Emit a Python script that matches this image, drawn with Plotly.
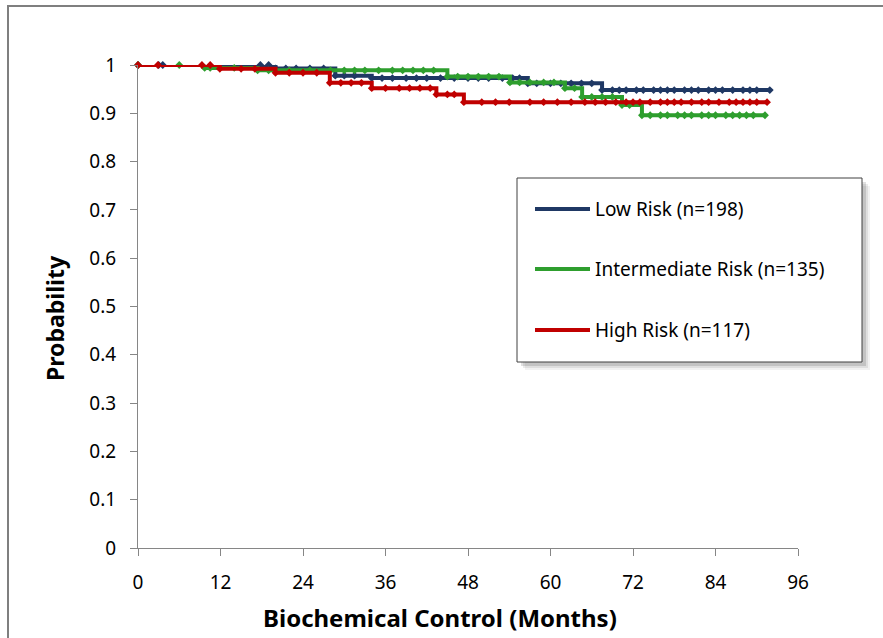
import plotly.graph_objects as go

# ---------------- data ----------------
series_names = ["Low Risk (n=198)", "Intermediate Risk (n=135)", "High Risk (n=117)"]
x_title = "Biochemical Control (Months)"
y_title = "Probability"

low_t = [0, 3, 3.6, 17.8, 19, 20, 21.5, 23, 25, 27, 28.7, 30, 31.5, 34, 35.5, 37, 39, 40.5, 42, 44, 46, 48,
         49.5, 51, 53, 54.5, 55.5, 56.7, 58, 60, 61.5, 63, 64.5, 66, 67.5, 69, 70, 71, 72.5, 73.5, 75, 76, 77,
         78, 79.5, 80.5, 81.5, 83, 84, 85, 86.5, 88, 89, 90, 91.9]
low_s = [1, 1, 1, 1, 1, 0.993, 0.993, 0.993, 0.993, 0.993, 0.978, 0.978, 0.978, 0.973, 0.973, 0.973, 0.973,
         0.973, 0.973, 0.973, 0.973, 0.973, 0.973, 0.973, 0.973, 0.973, 0.973, 0.962, 0.962, 0.962, 0.962,
         0.962, 0.962, 0.962, 0.948, 0.948, 0.948, 0.948, 0.948, 0.948, 0.948, 0.948, 0.948, 0.948, 0.948,
         0.948, 0.948, 0.948, 0.948, 0.948, 0.948, 0.948, 0.948, 0.948, 0.948]

int_t = [0, 6, 9.7, 10.5, 14, 17.4, 19, 22, 25, 28, 30, 31.5, 33, 35, 37, 38.5, 40, 41.5, 43, 45, 46.5, 48,
         49.5, 51, 52.5, 54.1, 55.5, 57, 59, 60.5, 62.1, 63.5, 64.6, 66, 67.5, 69, 70.4, 71.5, 73.3, 74.5, 76,
         77, 78.5, 79.5, 80.5, 82, 83, 84, 85.5, 86.5, 87.5, 88.5, 89.5, 91.2]
int_s = [1, 1, 0.994, 0.994, 0.994, 0.989, 0.989, 0.989, 0.989, 0.989, 0.989, 0.989, 0.989, 0.989, 0.989,
         0.989, 0.989, 0.989, 0.989, 0.976, 0.976, 0.976, 0.976, 0.976, 0.976, 0.964, 0.964, 0.964, 0.964,
         0.964, 0.952, 0.952, 0.934, 0.934, 0.934, 0.934, 0.917, 0.917, 0.896, 0.896, 0.896, 0.896, 0.896,
         0.896, 0.896, 0.896, 0.896, 0.896, 0.896, 0.896, 0.896, 0.896, 0.896, 0.896]

high_t = [0, 2.9, 9.3, 10.5, 11.9, 15, 17, 20, 22, 24, 26, 27.9, 29.5, 31, 32.5, 34, 36, 38, 39.5, 41, 42.5,
          43.4, 45, 46, 47.4, 50, 52, 54, 57, 59, 61, 63, 65, 66.5, 68, 69.5, 71, 72, 73, 74.5, 76, 77, 78, 79,
          80.5, 82, 83, 84.5, 86, 87, 88, 89, 90, 91.5]
high_s = [1, 1, 1, 1, 0.992, 0.992, 0.992, 0.984, 0.984, 0.984, 0.984, 0.963, 0.963, 0.963, 0.963, 0.952,
          0.952, 0.952, 0.952, 0.952, 0.952, 0.939, 0.939, 0.939, 0.923, 0.923, 0.923, 0.923, 0.923, 0.923,
          0.923, 0.923, 0.923, 0.923, 0.923, 0.923, 0.923, 0.923, 0.923, 0.923, 0.923, 0.923, 0.923, 0.923,
          0.923, 0.923, 0.923, 0.923, 0.923, 0.923, 0.923, 0.923, 0.923, 0.923]

x_ticks = [0, 12, 24, 36, 48, 60, 72, 84, 96]
y_ticks = [0, 0.1, 0.2, 0.3, 0.4, 0.5, 0.6, 0.7, 0.8, 0.9, 1]
y_tick_labels = ["0", "0.1", "0.2", "0.3", "0.4", "0.5", "0.6", "0.7", "0.8", "0.9", "1"]

colors = ["#1f3864", "#2e9e2e", "#c00000"]

# ---------------- layout geometry (pixels) ----------------
W, H = 883, 638
L, R, T, B = 138, 798, 65, 548
FONT = "Noto Sans, Open Sans, DejaVu Sans, sans-serif"


def px_x(p):
    return (p - L) / (R - L)


def px_y(p):
    return (B - p) / (B - T)


fig = go.Figure()
for name, t, s, c in zip(series_names, [low_t, int_t, high_t], [low_s, int_s, high_s], colors):
    fig.add_trace(go.Scatter(
        x=t, y=s, name=name, mode="lines+markers",
        line=dict(color=c, width=4, shape="hv"),
        marker=dict(symbol="diamond", size=6, color=c),
        showlegend=False, cliponaxis=False,
    ))

shapes = []
# outer frame (partially clipped like the reference)
shapes.append(dict(type="rect", xref="paper", yref="paper",
                   x0=px_x(8), x1=px_x(W + 20), y0=px_y(H + 20), y1=px_y(6),
                   line=dict(color="#7f7f7f", width=2), fillcolor="rgba(0,0,0,0)", layer="below"))

# legend box with soft shadow
lx0, lx1, ly0, ly1 = 517, 862, 178, 362
for off, alpha in [(8, 0.05), (6, 0.08), (4, 0.12)]:
    shapes.append(dict(type="rect", xref="paper", yref="paper",
                       x0=px_x(lx0 + off), x1=px_x(lx1 + off), y0=px_y(ly1 + off), y1=px_y(ly0 + off),
                       line=dict(width=0), fillcolor=f"rgba(0,0,0,{alpha})", layer="above"))
shapes.append(dict(type="rect", xref="paper", yref="paper",
                   x0=px_x(lx0), x1=px_x(lx1), y0=px_y(ly1), y1=px_y(ly0),
                   line=dict(color="#404040", width=1), fillcolor="white", layer="above"))

annotations = []
leg_rows = [209, 269, 330]
for name, c, yy in zip(series_names, colors, leg_rows):
    shapes.append(dict(type="line", xref="paper", yref="paper",
                       x0=px_x(535), x1=px_x(590), y0=px_y(yy), y1=px_y(yy),
                       line=dict(color=c, width=4), layer="above"))
    annotations.append(dict(xref="paper", yref="paper", x=px_x(593), y=px_y(yy),
                            text=name, showarrow=False, xanchor="left", yanchor="middle",
                            font=dict(family=FONT, size=19, color="black")))

# axis titles (positioned as in the reference)
annotations.append(dict(xref="paper", yref="paper", x=px_x(440), y=px_y(617),
                        text=f"<b>{x_title}</b>", showarrow=False, xanchor="center", yanchor="middle",
                        font=dict(family=FONT, size=24, color="black")))
annotations.append(dict(xref="paper", yref="paper", x=px_x(55), y=px_y(318),
                        text=f"<b>{y_title}</b>", showarrow=False, xanchor="center", yanchor="middle",
                        textangle=-90, font=dict(family=FONT, size=23, color="black")))

fig.update_layout(
    width=W, height=H,
    margin=dict(l=L, r=W - R, t=T, b=H - B),
    paper_bgcolor="white", plot_bgcolor="white",
    shapes=shapes, annotations=annotations,
    font=dict(family=FONT, color="black"),
    xaxis=dict(range=[0, 96], tickvals=x_ticks, ticktext=[str(v) for v in x_ticks],
               showgrid=False, zeroline=False, showline=True, linecolor="#868686", linewidth=1,
               ticks="outside", ticklen=7, tickcolor="#868686", ticklabelstandoff=10,
               tickfont=dict(family=FONT, size=19, color="black")),
    yaxis=dict(range=[0, 1], tickvals=y_ticks, ticktext=y_tick_labels,
               showgrid=False, zeroline=False, showline=True, linecolor="#868686", linewidth=1,
               ticks="outside", ticklen=7, tickcolor="#868686", ticklabelstandoff=10,
               tickfont=dict(family=FONT, size=19, color="black")),
)

fig.write_html("out.html")
